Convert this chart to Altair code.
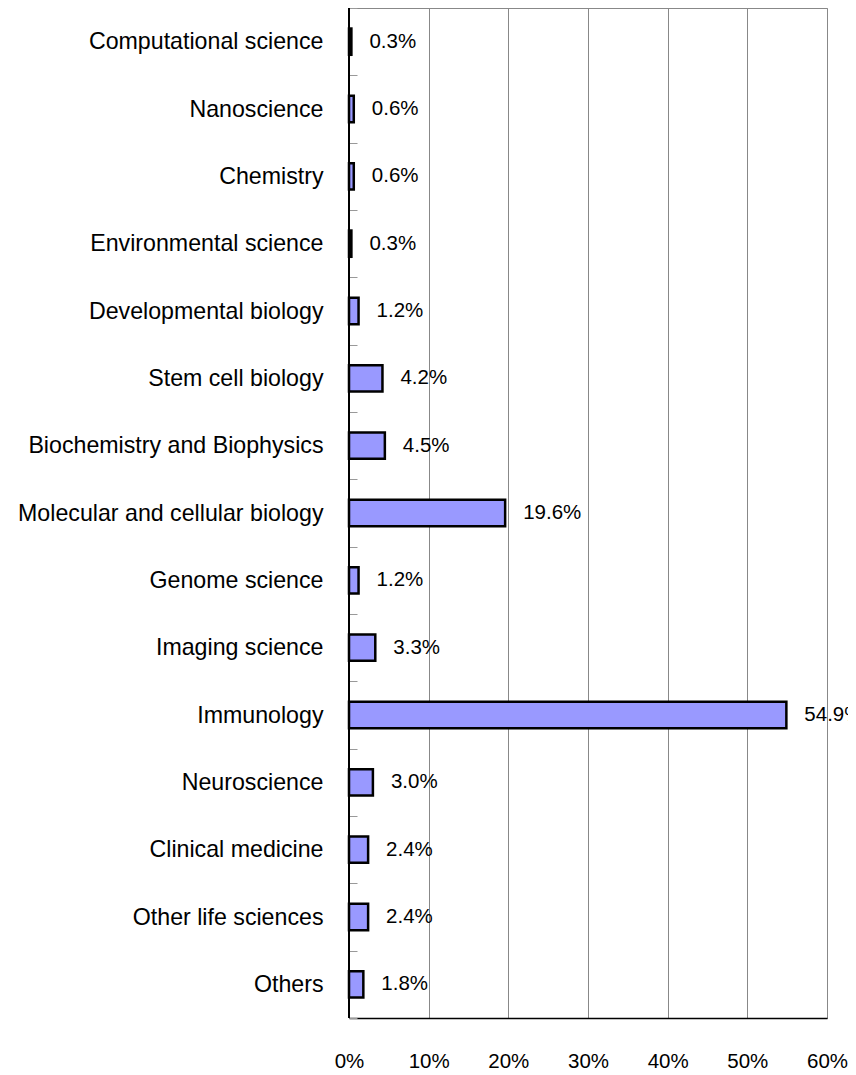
import altair as alt
import pandas as pd

categories = [
    "Computational science",
    "Nanoscience\u00a0",
    "Chemistry",
    "Environmental science",
    "Developmental biology",
    "Stem cell biology",
    "Biochemistry and Biophysics",
    "Molecular and cellular biology",
    "Genome science",
    "Imaging science",
    "Immunology",
    "Neuroscience",
    "Clinical medicine",
    "Other life sciences",
    "Others",
]
values = [0.3, 0.6, 0.6, 0.3, 1.2, 4.2, 4.5, 19.6, 1.2, 3.3, 54.9, 3.0, 2.4, 2.4, 1.8]
x_ticks = [0, 10, 20, 30, 40, 50, 60]

df = pd.DataFrame({"category": categories, "value": values})

NARROW = "Liberation Sans, Arial, sans-serif"

x_enc = alt.X(
    "value:Q",
    scale=alt.Scale(domain=[0, 60], nice=False),
    axis=alt.Axis(
        values=x_ticks,
        labelExpr="datum.value + '%'",
        title=None,
        grid=True,
        gridColor="#888888",
        gridWidth=1,
        domain=True,
        domainColor="#000000",
        domainWidth=1.5,
        ticks=False,
        labelFlush=False,
        labelOverlap=False,
        labelPadding=33,
        labelFont=NARROW,
        labelFontSize=20.5,
        labelColor="#000000",
    ),
)
y_enc = alt.Y(
    "category:N",
    sort=categories,
    scale=alt.Scale(paddingInner=0, paddingOuter=0),
    axis=alt.Axis(
        title=None,
        domain=False,
        offset=-8,
        tickBand="extent",
        tickSize=8,
        tickColor="#999999",
        tickWidth=1,
        labelPadding=26,
        labelLimit=0,
        labelFont="Liberation Sans, Arial, sans-serif",
        labelFontSize=23.2,
        labelColor="#000000",
    ),
)

base = alt.Chart(df)

bars = base.mark_bar(
    height=alt.RelativeBandSize(0.39),
    fill="#9999FF",
    stroke="#000000",
    strokeWidth=2.5,
).encode(x=x_enc, y=y_enc)

labels = base.transform_calculate(
    label="format(datum.value, '.1f') + '%'"
).mark_text(
    align="left",
    baseline="middle",
    dx=18,
    font=NARROW,
    fontSize=20.5,
    color="#000000",
).encode(x="value:Q", y=alt.Y("category:N", sort=categories), text="label:N")

left_line = base.mark_rule(color="#000000", strokeWidth=1.5).encode(x=alt.datum(0))

chart = (
    alt.layer(bars, labels, left_line)
    .properties(
        width=478,
        height=1010,
        autosize=alt.AutoSizeParams(type="none"),
        padding={"left": 341, "top": 0, "right": 21, "bottom": 55},
    )
    .configure_view(stroke="#888888", strokeWidth=1)
)

chart.save("out.html", embed_options={"renderer": "svg", "actions": False})
